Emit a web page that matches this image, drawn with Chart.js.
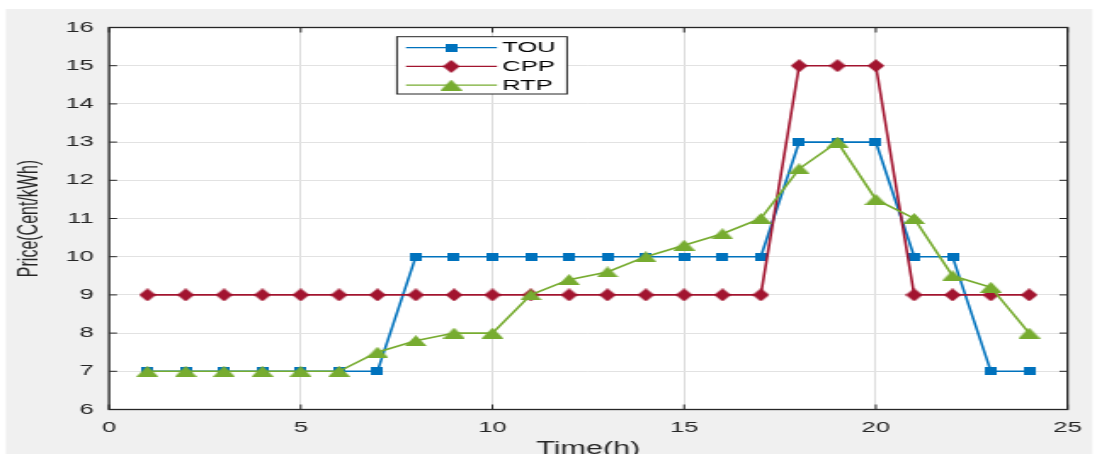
<!DOCTYPE html>
<html>
<head>
<meta charset="utf-8">
<title>TOU / CPP / RTP price</title>
<script src="https://cdn.jsdelivr.net/npm/chart.js@4.4.0/dist/chart.umd.min.js"></script>
<style>
  html, body { margin: 0; padding: 0; background: #fff; overflow: hidden; }
  #wrap { width: 1097px; height: 454px; overflow: hidden; position: relative; }
  /* the reference figure is stretched sideways, so the chart is drawn narrow and scaled */
  #stretch { position: absolute; left: 0; top: 0; width: 645px; height: 470px;
             transform: scaleX(1.7008); transform-origin: 0 0; }
</style>
</head>
<body>
<div id="wrap"><div id="stretch"><canvas id="mycanvas" width="645" height="470"></canvas></div></div>
<script>
var hours = [1,2,3,4,5,6,7,8,9,10,11,12,13,14,15,16,17,18,19,20,21,22,23,24];
var tou = [7,7,7,7,7,7,7,10,10,10,10,10,10,10,10,10,10,13,13,13,10,10,7,7];
var cpp = [9,9,9,9,9,9,9,9,9,9,9,9,9,9,9,9,9,15,15,15,9,9,9,9];
var rtp = [7,7,7,7,7,7,7.5,7.8,8,8,9,9.4,9.6,10,10.3,10.6,11,12.3,13,11.5,11,9.5,9.2,8];
var seriesNames = ['TOU', 'CPP', 'RTP'];
var xTicks = [0, 5, 10, 15, 20, 25];
var yTicks = [6, 7, 8, 9, 10, 11, 12, 13, 14, 15, 16];

var blue = '#0072BD', red = '#A2142F', green = '#77AC30';

// small marker images (sizes in unstretched units)
function marker(shape, w, h, col) {
  var c = document.createElement('canvas');
  c.width = w; c.height = h;
  var g = c.getContext('2d');
  g.fillStyle = col;
  g.beginPath();
  if (shape == 'square') {
    g.rect(0, 0, w, h);
  } else if (shape == 'diamond') {
    g.moveTo(w / 2, 0); g.lineTo(w, h / 2); g.lineTo(w / 2, h); g.lineTo(0, h / 2);
  } else {
    g.moveTo(w / 2, 0); g.lineTo(w, h); g.lineTo(0, h);
  }
  g.closePath();
  g.fill();
  return c;
}
var markers = [marker('square', 7, 8, blue), marker('diamond', 10, 13, red), marker('tri', 13, 11, green)];
var colors = [blue, red, green];

function pts(vals) {
  var out = [];
  for (var i in hours) out.push({x: hours[i], y: vals[i]});
  return out;
}

var boxPlugin = {
  id: 'matlabBox',
  beforeDraw: function(chart) {
    var ctx = chart.ctx, a = chart.chartArea;
    ctx.save();
    ctx.fillStyle = '#fff';
    ctx.fillRect(0, 0, chart.width, chart.height);
    ctx.fillStyle = '#f0f0f0';
    ctx.fillRect(3.5, 9, 638.7, chart.height);
    ctx.fillStyle = '#fff';
    ctx.fillRect(a.left, a.top, a.right - a.left, a.bottom - a.top);
    ctx.restore();
  },
  afterDraw: function(chart) {
    var ctx = chart.ctx, a = chart.chartArea;
    var xs = chart.scales.x, ys = chart.scales.y;
    ctx.save();
    ctx.strokeStyle = '#262626';
    ctx.lineWidth = 1;
    ctx.beginPath();
    xs.ticks.forEach(function(t) {
      var p = xs.getPixelForValue(t.value);
      ctx.moveTo(p, a.bottom); ctx.lineTo(p, a.bottom - 5);
      ctx.moveTo(p, a.top); ctx.lineTo(p, a.top + 5);
    });
    ys.ticks.forEach(function(t) {
      var p = ys.getPixelForValue(t.value);
      ctx.moveTo(a.left, p); ctx.lineTo(a.left + 4.7, p);
      ctx.moveTo(a.right, p); ctx.lineTo(a.right - 4.7, p);
    });
    ctx.stroke();
    ctx.lineWidth = 1.3;
    ctx.strokeRect(a.left, a.top, a.right - a.left, a.bottom - a.top);

    // legend box
    var bx = a.left + 169.3, by = a.top + 9.2, bw = 100, bh = 57.3;
    ctx.fillStyle = '#fff';
    ctx.fillRect(bx, by, bw, bh);
    ctx.lineWidth = 1;
    ctx.strokeStyle = '#262626';
    ctx.strokeRect(bx, by, bw, bh);
    ctx.font = '15px "Liberation Sans", Arial, sans-serif';
    ctx.textBaseline = 'middle';
    ctx.fillStyle = '#000';
    chart.data.datasets.forEach(function(ds, i) {
      var y = by + 11 + i * 18.7;
      ctx.strokeStyle = colors[i];
      ctx.lineWidth = 1.2;
      ctx.beginPath();
      ctx.moveTo(bx + 5.3, y); ctx.lineTo(bx + 58.8, y);
      ctx.stroke();
      var m = markers[i];
      ctx.drawImage(m, bx + 31.9 - m.width / 2, y - m.height / 2);
      ctx.fillText(ds.label, bx + 61.9, y + 0.5);
    });
    ctx.restore();
  }
};

var chartdata = {
  datasets: [
    { label: seriesNames[0], data: pts(tou), borderColor: blue, pointStyle: markers[0], order: 2 },
    { label: seriesNames[1], data: pts(cpp), borderColor: red, pointStyle: markers[1], order: 1 },
    { label: seriesNames[2], data: pts(rtp), borderColor: green, pointStyle: markers[2], order: 0 }
  ]
};
chartdata.datasets.forEach(function(ds) {
  ds.borderWidth = 1.6;
  ds.pointRadius = 5;
  ds.backgroundColor = ds.borderColor;
  ds.tension = 0;
  ds.fill = false;
});

var tickFont = { family: '"Liberation Sans", Arial, sans-serif', size: 15 };

var ctx = document.getElementById('mycanvas');
var lineGraph = new Chart(ctx, {
  type: 'line',
  data: chartdata,
  plugins: [boxPlugin],
  options: {
    responsive: false,
    animation: false,
    events: [],
    layout: { padding: { left: 0, top: 27.5, right: 15.9, bottom: 0 } },
    plugins: { legend: { display: false }, tooltip: { enabled: false } },
    scales: {
      x: {
        type: 'linear',
        min: 0, max: 25,
        afterBuildTicks: function(s) { s.ticks = xTicks.map(function(v) { return {value: v}; }); },
        afterFit: function(s) { s.height = 60.5; },
        ticks: { font: tickFont, color: '#262626', padding: 9, maxRotation: 0 },
        grid: { color: '#dcdcdc', lineWidth: 1, drawTicks: false },
        border: { display: false },
        title: { display: true, text: 'Time(h)', color: '#262626',
                 font: { family: '"Liberation Sans", Arial, sans-serif', size: 18 },
                 padding: { top: 0, bottom: 10 } }
      },
      y: {
        type: 'linear',
        min: 6, max: 16,
        afterBuildTicks: function(s) { s.ticks = yTicks.map(function(v) { return {value: v}; }); },
        afterFit: function(s) { s.width = 64.1; },
        ticks: { font: tickFont, color: '#262626', padding: 9 },
        grid: { color: '#e2e2e2', lineWidth: 1, drawTicks: false },
        border: { display: false },
        title: { display: true, text: 'Price(Cent/kWh)', color: '#262626',
                 font: { family: '"Liberation Sans", Arial, sans-serif', size: 16 },
                 padding: { top: 7.5, bottom: 0 } }
      }
    }
  }
});
</script>
</body>
</html>
